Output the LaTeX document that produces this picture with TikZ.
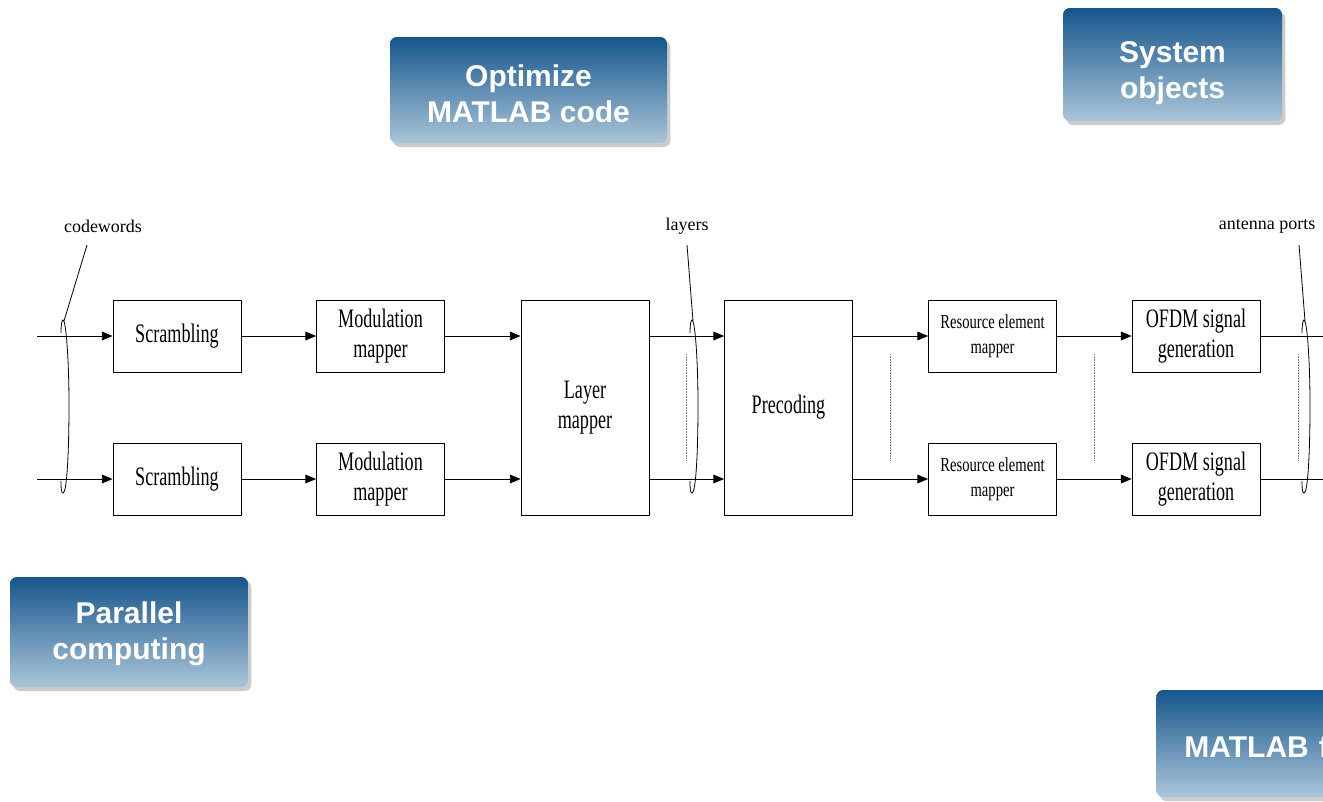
\documentclass[tikz,border=0pt]{standalone}
\usepackage{fontspec}
\setmainfont{Liberation Serif}
\newfontfamily\blockfont[FakeStretch=0.68]{Liberation Serif}
\newfontfamily\smallblockfont[FakeStretch=0.73]{Liberation Serif}
\newfontfamily\cardfont{Liberation Sans}
\usetikzlibrary{arrows.meta,shadows}
\definecolor{cardtop}{RGB}{22,86,140}
\definecolor{cardbot}{RGB}{170,197,217}

\begin{document}
\begin{tikzpicture}[x=0.75pt,y=-0.75pt,line width=0.6pt,
    >={Triangle[length=8pt,width=6.5pt]},
    blk/.style={draw,minimum width=96pt,minimum height=54pt,inner sep=0pt,align=center,
        font=\blockfont\fontsize{20}{22.5}\selectfont},
    tallblk/.style={blk,minimum height=161.25pt},
    reblk/.style={blk,font=\smallblockfont\fontsize{15}{18.5}\selectfont},
    lbl/.style={font=\fontsize{13.5}{16}\selectfont,inner sep=1pt},
    card/.style={rounded corners=5pt,top color=cardtop,bottom color=cardbot,
        drop shadow={shadow xshift=2.5pt,shadow yshift=-3pt,fill=black!45,opacity=.45},
        text=white,align=center,inner sep=0pt,text depth=0pt,
        font=\cardfont\bfseries\fontsize{22.5}{27}\selectfont}]
    \useasboundingbox (0,0) rectangle (1323,801);
    \clip (0,0) rectangle (1323,801);

    % blue cards
    \node[card,minimum width=207.75pt,minimum height=79.5pt,text height=48pt] (opt) at (528.5,90) {Optimize\\MATLAB code};
    \node[card,minimum width=164.25pt,minimum height=84.75pt,text height=51pt] (sys) at (1172.5,64.5) {System\\objects};
    \node[card,minimum width=178.5pt,minimum height=82.5pt,text height=41pt] (par) at (129,632) {Parallel\\computing};
    \node[card,anchor=west,minimum height=80.25pt,text width=160pt,inner xsep=21pt,align=left,text height=20.25pt] (mat) at (1156,743.5) {MATLAB f};

    % blocks
    \node[blk] (scr1) at (177,336) {Scrambling};
    \node[blk] (scr2) at (177,479) {Scrambling};
    \node[blk] (mod1) at (380.5,336) {Modulation\\mapper};
    \node[blk] (mod2) at (380.5,479) {Modulation\\mapper};
    \node[tallblk] (lay) at (585,407.5) {Layer\\mapper};
    \node[tallblk] (prec) at (788.5,407.5) {Precoding};
    \node[reblk] (rem1) at (992.5,336) {Resource element\\mapper};
    \node[reblk] (rem2) at (992.5,479) {Resource element\\mapper};
    \node[blk] (ofdm1) at (1196,336) {OFDM signal\\generation};
    \node[blk] (ofdm2) at (1196,479) {OFDM signal\\generation};

    \coordinate (in1) at (37,336);
    \coordinate (in2) at (37,479);
    \coordinate (out1) at (1323,336);
    \coordinate (out2) at (1323,479);

    % signal flow
    \draw[->] (in1) -- (scr1);
    \draw[->] (in2) -- (scr2);
    \draw[->] (scr1) -- (mod1);
    \draw[->] (scr2) -- (mod2);
    \draw[->] (mod1) -- (mod1 -| lay.west);
    \draw[->] (mod2) -- (mod2 -| lay.west);
    \draw[->] (lay.east |- mod1) -- (prec.west |- mod1);
    \draw[->] (lay.east |- mod2) -- (prec.west |- mod2);
    \draw[->] (prec.east |- rem1) -- (rem1);
    \draw[->] (prec.east |- rem2) -- (rem2);
    \draw[->] (rem1) -- (ofdm1);
    \draw[->] (rem2) -- (ofdm2);
    \draw (ofdm1) -- (out1);
    \draw (ofdm2) -- (out2);

    % dotted gaps between the rows
    \foreach \dx in {686,890,1094,1298}
        \draw[gray,dash pattern=on 0.6pt off 0.6pt] (\dx,354) -- (\dx,460);

    % group loops with their labels
    \foreach \bx/\lt/\tx/\nm/\txt in {63/87/103/cw/codewords, 692/687/687/ly/layers, 1304/1299/1267/ap/antenna ports}{
        \node[lbl] (\nm) at (\tx,226) {\txt};
        \draw (\lt,245) -- (\bx+1,321);
        \draw (\bx-2,333) .. controls (\bx-2,324) and (\bx-1,320) .. (\bx,320)
            .. controls (\bx+3,320) and (\bx+6,360) .. (\bx+6,405)
            .. controls (\bx+6,450) and (\bx+4,493) .. (\bx,493)
            .. controls (\bx-2,493) and (\bx-2,487) .. (\bx-2,481);
    }
\end{tikzpicture}
\end{document}
